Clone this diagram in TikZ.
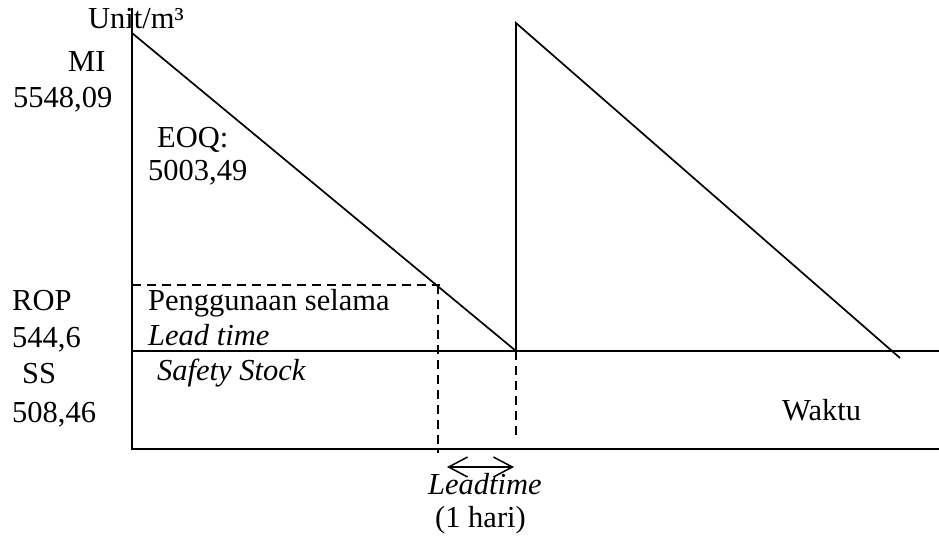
\documentclass[tikz,border=0pt]{standalone}
\usepackage{fontspec}
\setmainfont{Liberation Serif}
\usetikzlibrary{
    arrows.meta,
    positioning
}
\definecolor{ink}{RGB}{0,0,0}
\tikzset{
    line cap=butt,
    line join=miter,
    axisline/.style={
        draw=ink,
        line width=2pt
    },
    usage/.style={
        draw=ink,
        line width=1.7pt
    },
    guide/.style={
        draw=ink,
        line width=1.5pt,
        dash pattern=on 9pt off 6pt
    },
    span/.style={
        draw=ink,
        line width=1.5pt,
        {Straight Barb[length=19pt,width=20pt]}-{Straight Barb[length=19pt,width=20pt]}
    },
    lbl/.style={
        font=\fontsize{30.5}{36}\selectfont,
        text=ink,
        inner sep=0pt,
        anchor=base west
    },
    lblit/.style={
        lbl,
        font=\fontsize{30.5}{36}\selectfont\itshape
    }
}

\begin{document}
\begin{tikzpicture}[x=1pt, y=-1pt]

\useasboundingbox (0,0) rectangle (939,539);

% axes and levels
\coordinate (top) at (132,8);
\coordinate (origin) at (132,449);
\coordinate (baseright) at (939,449);
\coordinate (ssleft) at (132,351);
\coordinate (ssright) at (939,351);

% stock curve
\coordinate (peak1) at (132,33);
\coordinate (drop) at (516,351);
\coordinate (peak2) at (516,23);
\coordinate (tail) at (900,358);

% reorder point and lead time
\coordinate (ropleft) at (132,285);
\coordinate (rop) at (440,285);
\coordinate (ropknee) at (438,285);
\coordinate (ropfoot) at (438,453);
\coordinate (dropfoot) at (516,438);
\coordinate (ltleft) at (447,467);
\coordinate (ltright) at (514,467);

\draw[axisline] (top) -- (origin) -- (baseright);
\draw[axisline] (ssleft) -- (ssright);
\draw[usage] (peak1) -- (drop) -- (peak2) -- (tail);
\draw[guide] (ropleft) -- (rop);
\draw[guide] (ropknee) -- (ropfoot);
\draw[guide] (drop) -- (dropfoot);
\draw[span] (ltleft) -- (ltright);

% left column
\foreach \name/\x/\y/\txt in {
    unit/88/28/{Unit/m³},
    mi/68/71/{MI},
    mival/13/107/{5548,09},
    rop/12/310/{ROP},
    ropval/12/347/{544,6},
    ss/22/383/{SS},
    ssval/12/422/{508,46}
} {
    \node[lbl] (\name) at (\x,\y) {\txt};
}

\node[lbl] (eoq) at (157,147) {EOQ:};
\node[lbl] (eoqval) at (148,180) {5003,49};
\node[lbl] (use) at (148,310) {Penggunaan selama};
\node[lblit] (uselt) at (148,345) {Lead time};
\node[lblit] (safety) at (157,380) {Safety Stock};
\node[lbl] (time) at (782,420) {Waktu};
\node[lblit] (lt) at (428,494) {Leadtime};
\node[lbl] (ltday) at (435,527) {(1 hari)};

\end{tikzpicture}
\end{document}
